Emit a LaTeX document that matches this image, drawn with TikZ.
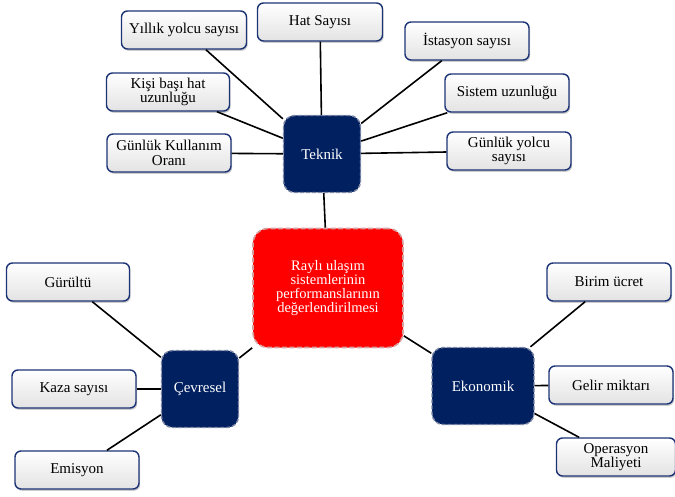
\documentclass[tikz,border=0pt]{standalone}
\usepackage{fontspec}
\setmainfont{Liberation Serif}
\definecolor{hubnavy}{RGB}{0,32,96}
\definecolor{leafedge}{RGB}{28,52,118}
\definecolor{hubdash}{RGB}{125,135,165}
\definecolor{centrered}{RGB}{255,0,0}
\definecolor{centredash}{RGB}{215,160,160}
\usetikzlibrary{positioning,shadows}

\tikzset{
  leaf/.style={draw=leafedge, line width=1.4pt, rounded corners=6pt,
    top color=white, bottom color=gray!22,
    drop shadow={opacity=0.4, shadow xshift=1.2pt, shadow yshift=-1.8pt},
    minimum width=124pt, minimum height=38pt, inner sep=2pt,
    align=center, font=\fontsize{15}{14.5}\selectfont},
  hub/.style={fill=hubnavy, draw=hubdash, line width=1.4pt,
    dash pattern=on 4pt off 2pt, rounded corners=11pt, text=white,
    minimum width=77pt, minimum height=77pt,
    font=\fontsize{15}{15}\selectfont},
  centre/.style={fill=centrered, draw=centredash, line width=1.6pt,
    dash pattern=on 5pt off 2.5pt, rounded corners=15pt, text=white,
    minimum width=150pt, minimum height=119pt, align=center,
    font=\fontsize{14.5}{14}\selectfont},
  link/.style={black, line width=1.6pt}
}

\begin{document}
\begin{tikzpicture}[x=1pt,y=-1pt]
  \useasboundingbox (0,0) rectangle (675,497);
  % Centre and the three hubs
  \node[centre] (merkez) at (328,288) {Raylı ulaşım\\sistemlerinin\\performanslarının\\değerlendirilmesi};
  \node[hub] (teknik) at (322,154) {Teknik};
  \node[hub] (cevresel) at (200,389) {Çevresel};
  \node[hub, minimum width=102pt] (ekonomik) at (483,386) {Ekonomik};
  % Teknik leaves
  \node[leaf, minimum width=125pt] (yillik) at (184,30) {Yıllık yolcu sayısı};
  \node[leaf, minimum width=125pt] (hatsayisi) at (320,22) {Hat Sayısı};
  \node[leaf, minimum width=123pt] (kisibasi) at (168,92) {Kişi başı hat\\uzunluğu};
  \node[leaf, minimum width=124pt] (kullanim) at (169,153) {Günlük Kullanım\\Oranı};
  \node[leaf] (istasyon) at (467,41) {İstasyon sayısı};
  \node[leaf] (sistem) at (507,93) {Sistem uzunluğu};
  \node[leaf] (gunlukyolcu) at (509,151) {Günlük yolcu\\sayısı};
  % Cevresel leaves
  \node[leaf, minimum width=123pt] (gurultu) at (68,282) {Gürültü};
  \node[leaf] (kaza) at (74,389) {Kaza sayısı};
  \node[leaf] (emisyon) at (77,470) {Emisyon};
  % Ekonomik leaves
  \node[leaf] (birim) at (609,282) {Birim ücret};
  \node[leaf] (gelir) at (611,385) {Gelir miktarı};
  \node[leaf, minimum width=119pt] (operasyon) at (616,457) {Operasyon\\Maliyeti};
  % Connectors
  \draw[link] (teknik) -- (merkez);
  \draw[link] (cevresel) -- (merkez);
  \draw[link] (ekonomik) -- (merkez);
  \foreach \leafname in {yillik,hatsayisi,kisibasi,kullanim,istasyon,sistem,gunlukyolcu}
    \draw[link] (teknik) -- (\leafname);
  \foreach \leafname in {gurultu,kaza,emisyon}
    \draw[link] (cevresel) -- (\leafname);
  \foreach \leafname in {birim,gelir,operasyon}
    \draw[link] (ekonomik) -- (\leafname);
\end{tikzpicture}
\end{document}
